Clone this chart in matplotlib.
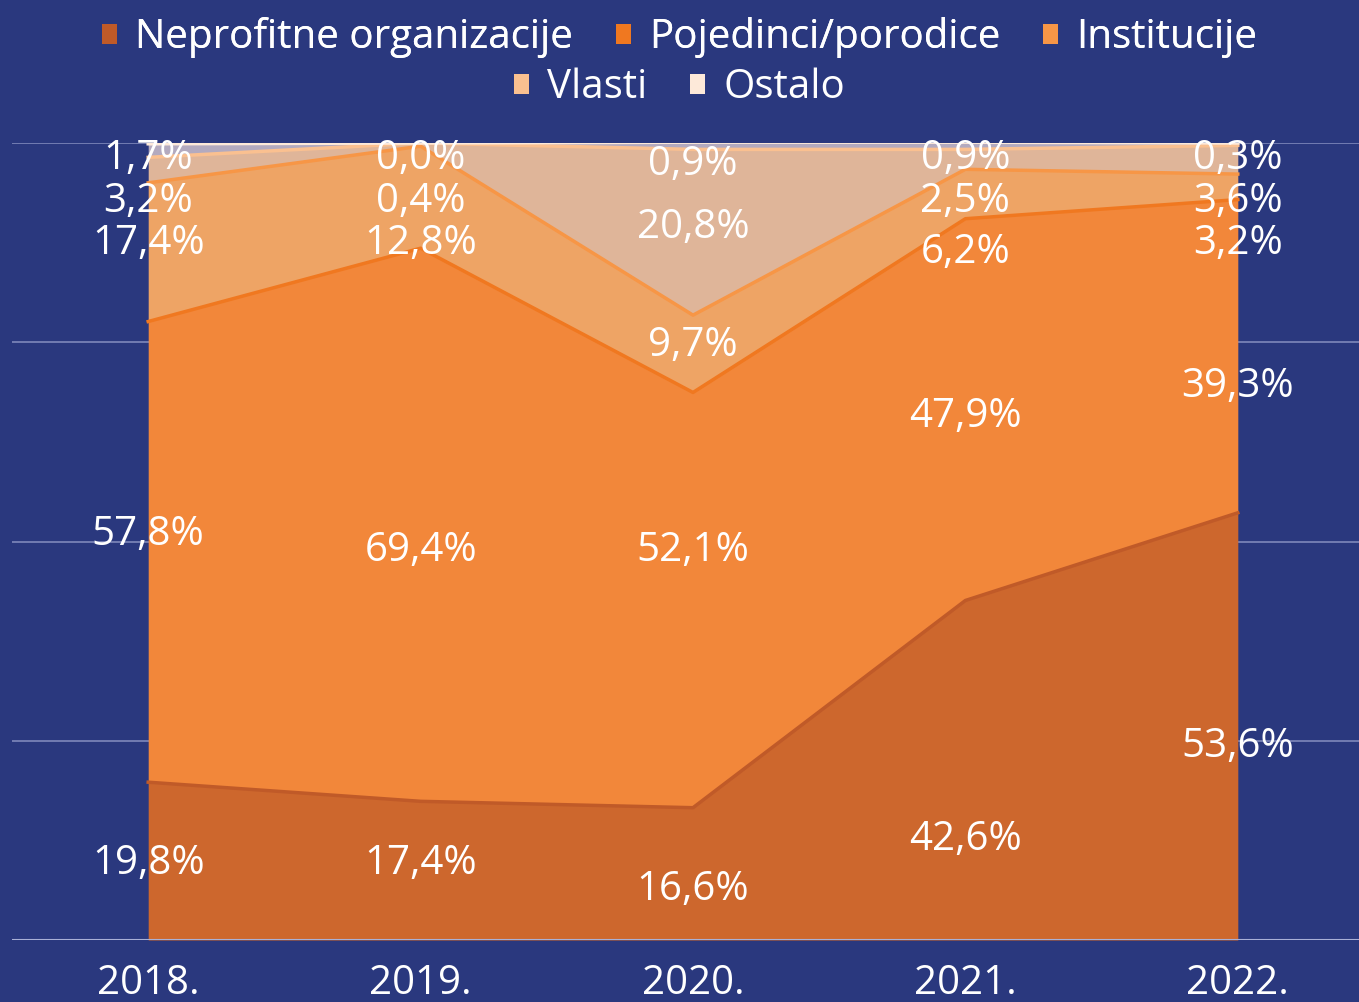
import numpy as np
import matplotlib.pyplot as plt
from matplotlib.patches import Patch

years = ['2018.', '2019.', '2020.', '2021.', '2022.']
series = ['Neprofitne organizacije', 'Pojedinci/porodice', 'Institucije', 'Vlasti', 'Ostalo']
neprofitne = [19.8, 17.4, 16.6, 42.6, 53.6]
pojedinci = [57.8, 69.4, 52.1, 47.9, 39.3]
institucije = [17.4, 12.8, 9.7, 6.2, 3.2]
vlasti = [3.2, 0.4, 20.8, 2.5, 3.6]
ostalo = [1.7, 0.0, 0.9, 0.9, 0.3]

# label heights (% of axis) as placed in the original chart
label_pos = [
    [9.6, 50.9, 87.4, 92.6, 98.0],
    [9.6, 48.9, 87.4, 92.6, 98.0],
    [6.3, 48.9, 74.5, 89.4, 97.3],
    [12.6, 65.7, 86.2, 92.6, 98.0],
    [24.3, 69.4, 87.4, 92.6, 98.0],
]

bg = '#2a387e'
fills = ['#cd672d', '#f2873a', '#eea465', '#dfb599', '#b3aabf']
edges = ['#c05a28', '#f07820', '#f79646', '#fac090', '#fde9d9']

plt.rcParams['font.family'] = ['Open Sans', 'DejaVu Sans']

fig = plt.figure(figsize=(13.59, 10.02), dpi=100, facecolor=bg)
ax = fig.add_axes([12 / 1359, 62 / 1002, 1362 / 1359, 797 / 1002])
ax.set_facecolor(bg)

data = np.array([neprofitne, pojedinci, institucije, vlasti, ostalo])
x = np.arange(len(years))
base = np.zeros(len(years))
for i in range(len(series)):
    top = base + data[i]
    ax.fill_between(x, base, top, color=fills[i], lw=0, zorder=2)
    ax.plot(x, top, color=edges[i], lw=2.5, zorder=3)
    base = top

for j in range(len(years)):
    for i in range(len(series)):
        txt = f'{data[i, j]:.1f}%'.replace('.', ',')
        ax.text(x[j], label_pos[j][i], txt, ha='center', va='center',
                color='white', fontsize=29, zorder=5)

ax.set_xlim(-0.5, 4.5)
ax.set_ylim(0, 100)
ax.set_yticks([0, 25, 50, 75, 100])
ax.set_yticklabels([])
ax.grid(axis='y', color='#7f88bb', lw=1.2, zorder=0)
ax.axhline(0, color='#a9b0d6', lw=1.5, zorder=4)
ax.set_xticks(x)
ax.set_xticklabels(years, color='white', fontsize=29)
ax.tick_params(length=0, pad=17)
for s in ax.spines.values():
    s.set_visible(False)

handles = [Patch(facecolor=edges[i], edgecolor='none') for i in range(len(series))]
leg_kw = dict(frameon=False, fontsize=29, labelcolor='white', handlelength=0.38,
              handleheight=0.38, handletextpad=0.45, columnspacing=1.05)
leg1 = fig.legend(handles[:3], series[:3], loc='center', ncol=3,
                  bbox_to_anchor=(0.5, 1 - 38 / 1002), **leg_kw)
fig.add_artist(leg1)
fig.legend(handles[3:], series[3:], loc='center', ncol=2,
           bbox_to_anchor=(0.5, 1 - 88 / 1002), **leg_kw)

fig.savefig('out.png', dpi=100, facecolor=bg)
